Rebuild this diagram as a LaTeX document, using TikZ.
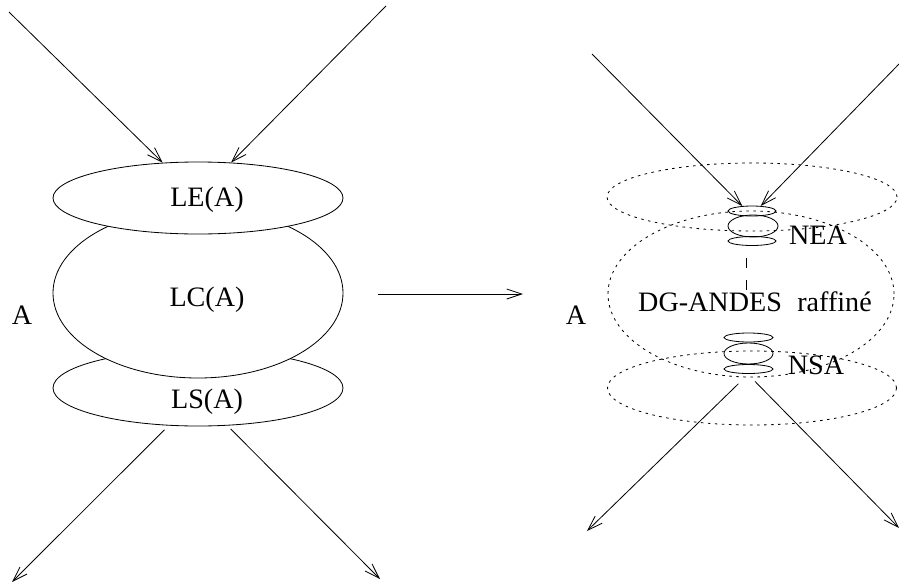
\documentclass[tikz,border=0pt]{standalone}
\usepackage{fontspec}
\setmainfont{Liberation Serif}
\usetikzlibrary{shapes.geometric,arrows.meta}
\begin{document}
\begin{tikzpicture}[x=0.03cm,y=-0.03cm,line width=0.7pt,
  >={Straight Barb[length=4.5mm,width=3mm]}]

% size of one pixel of the drawing
\def\px{0.03cm}
% node style definition
\tikzstyle{lens} = [draw, ellipse, fill=white, inner sep=0pt];
\tikzstyle{dotlens} = [draw, ellipse, inner sep=0pt, dash pattern=on 2.2pt off 3.8pt];
\tikzstyle{small} = [draw, ellipse, inner sep=0pt];
\tikzstyle{txt} = [draw=none, fill=none, inner sep=0pt, font=\fontsize{24}{28}\selectfont];

\useasboundingbox (0,0) rectangle (899,584);

% left: the agent A
\node[lens, minimum width=290*\px, minimum height=76*\px] (ls) at (198,388) {};
\node[lens, minimum width=290*\px, minimum height=170*\px] (lc) at (198,293) {};
\node[lens, minimum width=290*\px, minimum height=72*\px] (le) at (198,198) {};

\node[txt] (leA) at (207,200) {LE(A)};
\node[txt] (lcA) at (207,300) {LC(A)};
\node[txt] (lsA) at (207,402) {LS(A)};
\node[txt] (aL) at (22,315) {A};

\coordinate (inLa) at (9,12);
\coordinate (inLb) at (386,6);
\coordinate (outLa) at (12,582);
\coordinate (outLb) at (380,579);

\draw[->] (inLa) -- (le.135);
\draw[->] (inLb) -- (le.47);
\draw[->, shorten <=5pt] (ls.-128) -- (outLa);
\draw[->, shorten <=4pt] (ls.-52) -- (outLb);

% refinement
\coordinate (mA) at (378,294);
\coordinate (mB) at (523,294);
\draw[->] (mA) -- (mB);

% right: refined A
\node[dotlens, minimum width=290*\px, minimum height=68*\px] (re) at (752,197) {};
\node[dotlens, minimum width=286*\px, minimum height=166*\px] (rc) at (751,294) {};
\node[dotlens, minimum width=289*\px, minimum height=74*\px] (rs) at (752,388) {};

\node[small, minimum width=48*\px, minimum height=10*\px] (nea1) at (752,211) {};
\node[small, minimum width=50*\px, minimum height=22*\px] (nea2) at (753,226) {};
\node[small, minimum width=48*\px, minimum height=9*\px] (nea3) at (752,241) {};

\node[small, minimum width=49*\px, minimum height=9*\px] (nsa1) at (748.5,337.5) {};
\node[small, minimum width=49*\px, minimum height=21*\px] (nsa2) at (748.5,353.5) {};
\node[small, minimum width=49*\px, minimum height=9*\px] (nsa3) at (748.5,369) {};

\node[txt] (nea) at (818,235) {NEA};
\node[txt] (nsa) at (816,365) {NSA};
\node[txt] (dg) at (755,302) {DG-ANDES\hspace{0.55em}raffiné};
\node[txt] (aR) at (576,315) {A};

\coordinate (dsA) at (746,258);
\coordinate (dsB) at (746,290);
\draw[dash pattern=on 8.5pt off 10pt] (dsA) -- (dsB);

\coordinate (inRa) at (592,54);
\coordinate (inRb) at (899,64);
\coordinate (outRa) at (587,531);
\coordinate (outRb) at (899,528);

\draw[->] (inRa) -- (nea1.153);
\draw[->] (inRb) -- (nea1.30);
\draw[->, shorten <=12pt] (nsa3.south) -- (outRa);
\draw[->, shorten <=9pt] (nsa3.-100) -- (outRb);

\end{tikzpicture}
\end{document}
